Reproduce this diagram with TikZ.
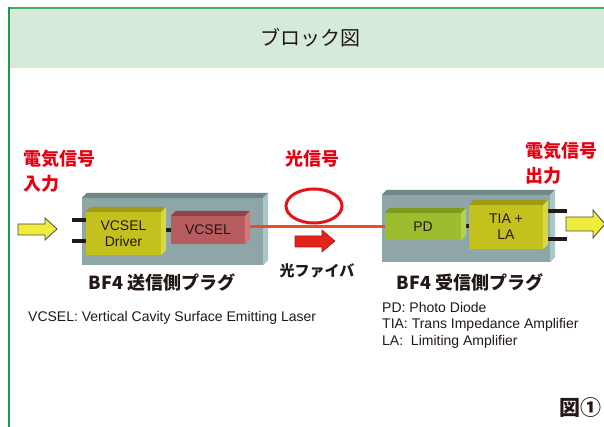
\documentclass[tikz,border=0pt]{standalone}
\usepackage{fontspec}
\setmainfont{Liberation Sans}
\newfontfamily\jp{Noto Sans CJK JP}
\usetikzlibrary{shapes.geometric}
\definecolor{headgreen}{HTML}{D5EAD9}
\definecolor{framegreen}{HTML}{1E9A48}
\definecolor{topgreen}{HTML}{3CB05A}
\definecolor{outerF}{HTML}{8EA6A8}
\definecolor{outerT}{HTML}{718889}
\definecolor{outerS}{HTML}{A9C6C8}
\definecolor{drvF}{HTML}{C2C11E}
\definecolor{drvT}{HTML}{9E9C12}
\definecolor{drvS}{HTML}{D9D83C}
\definecolor{vcF}{HTML}{B65B5E}
\definecolor{vcT}{HTML}{904244}
\definecolor{vcS}{HTML}{D27679}
\definecolor{pdF}{HTML}{9BBD2E}
\definecolor{pdT}{HTML}{7E9C1C}
\definecolor{pdS}{HTML}{B5D24C}
\definecolor{fiber}{HTML}{E94B26}
\definecolor{sigred}{HTML}{E3141C}
\definecolor{labred}{HTML}{E60012}
\definecolor{ink}{HTML}{231815}
\definecolor{yel}{HTML}{EEEC3C}
\definecolor{arrred}{HTML}{E3241B}
\newcommand\boxfaces[3]{%
  \fill[#2] (#1.north west) -- ([shift={(5pt,5pt)}]#1.north west) -- ([shift={(5pt,5pt)}]#1.north east) -- (#1.north east) -- cycle;
  \fill[#3] (#1.north east) -- ([shift={(5pt,5pt)}]#1.north east) -- ([shift={(5pt,5pt)}]#1.south east) -- (#1.south east) -- cycle;}
\tikzset{
  face/.style={rectangle, inner sep=0pt, text=ink, align=center, font=\fontsize{14pt}{16pt}\selectfont},
  pinbar/.style={draw=ink, line width=4pt},
  redlab/.style={text=labred, font=\jp\bfseries\fontsize{18pt}{25pt}\selectfont, align=left, inner sep=0pt},
  darklab/.style={text=ink, font=\jp\bfseries\fontsize{18pt}{22pt}\selectfont, inner sep=0pt},
  note/.style={text=ink, font=\fontsize{14pt}{16.5pt}\selectfont, align=left, inner sep=0pt},
  yarrow/.style={draw=ink!80, line width=0.8pt, fill=yel, line join=miter},
  rarrow/.style={draw=arrred!75!black, line width=0.6pt, fill=arrred, line join=miter},
}
\begin{document}
\begin{tikzpicture}[x=1pt,y=-1pt]
\useasboundingbox (0,0) rectangle (604,427);
% header
\fill[headgreen] (8,7) rectangle (604,68);
\draw[topgreen, line width=1.2pt] (8,8) -- (604,8);
\draw[framegreen, line width=1.2pt] (9,7.5) -- (9,427);
\node[font=\jp\fontsize{20pt}{24pt}\selectfont, text=ink, inner sep=0pt] (title) at (310,38) {ブロック図};
% outer boxes
\node[face, fill=outerF, minimum width=181pt, minimum height=67pt] (tx) at (172.5,231.5) {};
\boxfaces{tx}{outerT}{outerS}
\node[face, fill=outerF, minimum width=168pt, minimum height=67pt] (rx) at (466,228.5) {};
\boxfaces{rx}{outerT}{outerS}
% inner nodes (defined first for anchors, drawn later)
\path node[face, minimum width=75pt, minimum height=43pt] (drv) at (123.5,233.5) {}
      node[face, minimum width=74pt, minimum height=28pt] (vc) at (208,230) {}
      node[face, minimum width=76pt, minimum height=27pt] (pd) at (423,226.5) {}
      node[face, minimum width=74pt, minimum height=44pt] (tia) at (506,227) {};
% fiber
\draw[fiber, line width=3.5pt] (vc.east |- pd.west) -- (pd.west);
% pins and inner links
\draw[pinbar] ([yshift=13.5pt]drv.west) -- ++(-14,0);
\draw[pinbar] ([yshift=-7.5pt]drv.west) -- ++(-14,0);
\draw[pinbar] ([yshift=16pt]tia.east) -- ++(24,0);
\draw[pinbar] ([yshift=-12pt]tia.east) -- ++(24,0);
\draw[pinbar] (drv.east |- vc.west) -- (vc.west);
\draw[pinbar] (pd.east) -- (tia.west |- pd.east);
% inner boxes
\node[face, fill=drvF, minimum width=75pt, minimum height=43pt] at (drv) {VCSEL\\Driver};
\boxfaces{drv}{drvT}{drvS}
\node[face, fill=vcF, minimum width=74pt, minimum height=28pt] at (vc) {VCSEL};
\boxfaces{vc}{vcT}{vcS}
\node[face, fill=pdF, minimum width=76pt, minimum height=27pt] at (pd) {PD};
\boxfaces{pd}{pdT}{pdS}
\node[face, fill=drvF, minimum width=74pt, minimum height=44pt] at (tia) {TIA +\\LA};
\boxfaces{tia}{drvT}{drvS}
% optical signal
\node[ellipse, draw=sigred, line width=3pt, minimum width=56pt, minimum height=34pt, inner sep=0pt] (sig) at (314,206) {};
\node[redlab] (siglab) at (312,159) {光信号};
\draw[rarrow] (295,236) -- (322,236) -- (322,230) -- (335,241) -- (322,252) -- (322,247) -- (295,247) -- cycle;
\node[darklab, font=\jp\bfseries\fontsize{15pt}{18pt}\selectfont] (fib) at (317,270.5) {光ファイバ};
% electrical arrows
\draw[yarrow] (18,224) -- (45,224) -- (45,218) -- (57,229) -- (45,240) -- (45,235) -- (18,235) -- cycle;
\draw[yarrow] (566,217) -- (593,217) -- (593,210) -- (605,224) -- (593,238) -- (593,231) -- (566,231) -- cycle;
% labels
\node[redlab, anchor=north west] (inlab) at (23,150) {電気信号\\入力};
\node[redlab, anchor=north west] (outlab) at (525,142) {電気信号\\出力};
\node[darklab] (txlab) at (162,282) {BF4 送信側プラグ};
\node[darklab] (rxlab) at (470,282) {BF4 受信側プラグ};
\node[note, anchor=west] (n1) at (28,318) {VCSEL: Vertical Cavity Surface Emitting Laser};
\node[note, anchor=north west] (n2) at (382,302) {PD: Photo Diode\\TIA: Trans Impedance Amplifier\\LA:\ \ Limiting Amplifier};
\node[text=ink, font=\jp\bfseries\fontsize{21pt}{23pt}\selectfont, anchor=west, inner sep=0pt] (fig) at (559,408) {図①};
\end{tikzpicture}
\end{document}
